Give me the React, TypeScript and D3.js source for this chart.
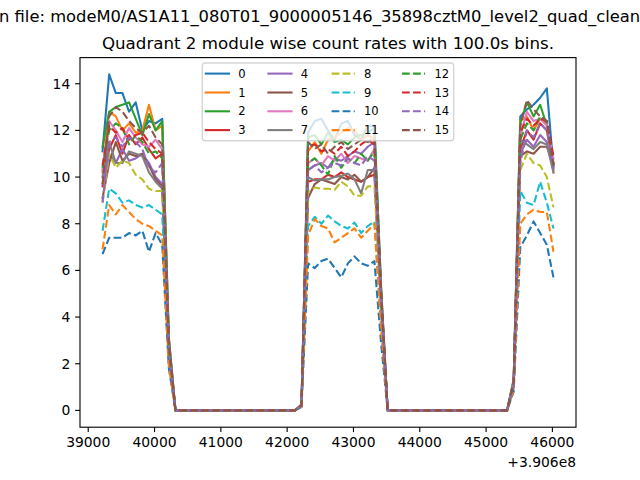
import React from "react";
import * as d3 from "d3";

const SUPTITLE = "n file: modeM0/AS1A11_080T01_9000005146_35898cztM0_level2_quad_clean.evt";
const TITLE = "Quadrant 2 module wise count rates with 100.0s bins.";
const OFFSET_LABEL = "+3.906e8";

// 100 s bin centres (offset removed: true time = value + 3.906e8)
const TIMES = d3.range(39216, 46017, 100);
const GAP = [0, 0, 0, 0, 0, 0, 0, 0, 0, 0, 0, 0, 0, 0, 0, 0, 0, 0, 0];

const X_TICKS = [39000, 40000, 41000, 42000, 43000, 44000, 45000, 46000];
const Y_TICKS = [0, 2, 4, 6, 8, 10, 12, 14];
const MODULE_LABELS = ["0", "1", "2", "3", "4", "5", "6", "7", "8", "9", "10", "11", "12", "13", "14", "15"];
const COLORS = ["#1f77b4", "#ff7f0e", "#2ca02c", "#d62728", "#9467bd", "#8c564b", "#e377c2", "#7f7f7f", "#bcbd22", "#17becf"];

const m0 = [11.1, 14.4, 13.6, 13.6, 12.8, 13.2, 12.0, 12.4, 12.3, 12.5, 3.1, ...GAP,
  0.25, 11.9, 12.4, 12.5, 12.0, 11.6, 12.3, 12.4, 11.8, 11.6, 12.2, 12.2, 5.3, ...GAP,
  1.3, 12.6, 12.9, 13.1, 13.4, 13.8, 10.4];
const m1 = [10.2, 12.8, 12.6, 12.0, 12.3, 11.9, 12.0, 13.1, 12.0, 12.2, 3.0, ...GAP,
  0.24, 11.1, 11.5, 11.0, 11.6, 11.7, 11.9, 12.1, 12.0, 11.6, 11.8, 11.6, 5.1, ...GAP,
  1.2, 12.4, 12.6, 12.0, 12.5, 12.3, 10.2];
const m2 = [11.3, 12.8, 13.0, 13.1, 13.2, 12.5, 11.8, 12.7, 12.0, 12.4, 3.1, ...GAP,
  0.24, 11.7, 11.8, 11.4, 11.9, 11.5, 11.6, 11.4, 11.7, 11.8, 11.9, 12.1, 5.3, ...GAP,
  1.3, 12.3, 13.2, 12.6, 13.1, 12.2, 10.6];
const m3 = [9.6, 11.2, 11.8, 11.0, 11.8, 11.4, 11.7, 11.2, 10.8, 11.0, 2.7, ...GAP,
  0.2, 9.8, 9.9, 9.9, 10.1, 10.0, 10.2, 10.0, 9.9, 9.8, 10.0, 10.1, 4.5, ...GAP,
  1.1, 11.2, 12.0, 11.6, 12.3, 12.0, 10.6];
const m4 = [9.7, 11.0, 10.6, 11.2, 10.7, 10.8, 11.0, 10.6, 10.0, 9.7, 2.4, ...GAP,
  0.2, 10.3, 10.5, 10.6, 10.4, 10.8, 10.7, 10.9, 11.1, 11.0, 11.3, 11.5, 4.9, ...GAP,
  1.1, 11.0, 11.6, 11.3, 11.8, 11.5, 10.3];
const m5 = [9.1, 10.6, 11.5, 10.7, 11.0, 10.9, 11.0, 10.5, 9.9, 9.6, 2.4, ...GAP,
  0.2, 9.1, 9.7, 9.9, 9.8, 9.7, 10.0, 9.9, 10.1, 9.8, 10.0, 10.4, 4.5, ...GAP,
  1.0, 10.9, 11.1, 11.0, 11.3, 11.3, 10.5];
const m6 = [10.3, 12.4, 12.0, 11.5, 12.1, 11.7, 11.4, 11.3, 11.6, 11.2, 2.8, ...GAP,
  0.22, 10.6, 10.8, 10.5, 10.9, 10.7, 11.0, 10.6, 10.9, 10.8, 10.7, 11.2, 4.9, ...GAP,
  1.2, 11.8, 12.8, 12.4, 12.5, 12.2, 10.8];
const m7 = [10.0, 11.5, 10.6, 10.6, 11.1, 11.0, 10.9, 10.2, 9.8, 9.5, 2.4, ...GAP,
  0.2, 10.0, 9.85, 9.9, 9.9, 10.0, 10.05, 10.15, 9.9, 9.3, 10.3, 10.3, 4.6, ...GAP,
  1.1, 11.6, 11.4, 11.2, 11.5, 11.4, 10.2];
const m8 = [8.9, 11.0, 10.4, 10.7, 10.6, 10.1, 9.9, 9.5, 9.4, 9.4, 2.3, ...GAP,
  0.19, 9.4, 9.55, 9.5, 9.5, 9.45, 9.8, 9.6, 9.2, 9.2, 9.6, 9.6, 4.3, ...GAP,
  1.0, 10.3, 11.0, 10.6, 10.5, 10.0, 8.7];
const m9 = [7.7, 9.5, 9.3, 8.9, 9.0, 8.8, 8.7, 8.8, 8.6, 8.4, 2.1, ...GAP,
  0.17, 7.9, 8.3, 8.0, 8.35, 8.1, 7.9, 7.8, 8.05, 7.6, 7.9, 8.1, 3.7, ...GAP,
  0.9, 9.4, 8.9, 8.8, 9.8, 8.9, 7.8];
const m10 = [6.7, 7.4, 7.4, 7.4, 7.6, 7.5, 7.7, 6.8, 7.6, 7.1, 1.8, ...GAP,
  0.14, 6.3, 6.1, 6.4, 6.5, 6.1, 5.7, 6.3, 6.6, 6.3, 6.2, 6.4, 2.9, ...GAP,
  0.8, 7.0, 7.5, 8.1, 7.6, 7.1, 5.7];
const m11 = [6.9, 8.8, 8.4, 8.8, 8.5, 8.2, 8.0, 7.9, 7.7, 7.5, 1.9, ...GAP,
  0.15, 7.5, 8.2, 7.9, 7.8, 7.2, 7.4, 7.6, 7.8, 7.4, 7.7, 8.0, 3.6, ...GAP,
  0.9, 8.0, 8.4, 8.6, 8.5, 8.5, 6.8];
const m12 = [10.4, 12.0, 12.3, 12.1, 11.4, 11.8, 11.5, 11.0, 11.1, 10.8, 2.7, ...GAP,
  0.2, 10.6, 10.8, 10.5, 10.1, 10.9, 10.4, 10.8, 10.6, 11.0, 10.7, 11.1, 4.9, ...GAP,
  1.1, 11.6, 12.3, 12.0, 12.6, 12.4, 10.5];
const m13 = [10.5, 12.2, 11.9, 12.1, 11.6, 11.8, 11.9, 11.5, 11.2, 11.0, 2.8, ...GAP,
  0.22, 11.3, 11.4, 11.1, 11.2, 11.0, 11.3, 10.9, 11.1, 11.4, 11.6, 11.4, 5.0, ...GAP,
  1.2, 11.9, 12.5, 12.2, 12.5, 12.4, 10.9];
const m14 = [8.9, 11.5, 11.7, 11.3, 11.7, 11.5, 11.2, 10.4, 10.2, 10.6, 2.6, ...GAP,
  0.2, 10.3, 10.5, 10.2, 10.4, 10.6, 10.5, 10.8, 10.6, 10.5, 10.9, 10.7, 4.7, ...GAP,
  1.1, 10.6, 12.0, 11.7, 12.3, 12.0, 10.4];
const m15 = [9.7, 12.6, 13.0, 12.8, 12.4, 12.1, 11.9, 12.2, 11.7, 11.4, 2.8, ...GAP,
  0.22, 11.5, 11.2, 11.4, 11.0, 11.3, 11.5, 11.2, 11.4, 11.6, 11.5, 11.7, 5.1, ...GAP,
  1.2, 12.2, 13.3, 12.9, 12.6, 12.4, 10.5];

const SERIES = [m0, m1, m2, m3, m4, m5, m6, m7, m8, m9, m10, m11, m12, m13, m14, m15];

const W = 640;
const H = 480;
const PT = 100 / 72;
const AX = { left: 80, right: 576, top: 57.6, bottom: 427.2 };
const FONT = "DejaVu Sans, Liberation Sans, sans-serif";

export default function App() {
  const xMin = d3.min(TIMES) as number;
  const xMax = d3.max(TIMES) as number;
  const xPad = (xMax - xMin) * 0.05;
  const yMin = 0;
  const yMax = d3.max(SERIES.flat()) as number;
  const yPad = (yMax - yMin) * 0.05;

  const x = d3.scaleLinear().domain([xMin - xPad, xMax + xPad]).range([AX.left, AX.right]);
  const y = d3.scaleLinear().domain([yMin - yPad, yMax + yPad]).range([AX.bottom, AX.top]);

  const lw = 1.5 * PT;
  const dash = `${3.7 * lw} ${1.6 * lw}`;
  const tickLen = 3.5 * PT;
  const tickFs = 10 * PT;
  const titleFs = 12 * PT;
  const legFs = 8.33 * PT;

  const line = d3
    .line<number>()
    .x((_, i) => x(TIMES[i]))
    .y((d) => y(d));

  // legend layout
  const legLeft = 202.3;
  const legTop = 63;
  const legW = 251.4;
  const legH = 77.7;
  const colX = [205.8, 268.4, 331.6, 402.0];
  const rowY = [73.6, 92.5, 111.3, 130.1];
  const handleLen = 2 * legFs;
  const textOff = 2.8 * legFs;

  return (
    <svg
      width={W}
      height={H}
      viewBox={`0 0 ${W} ${H}`}
      style={{ position: "fixed", left: 0, top: 0, background: "#fff" }}
      fontFamily={FONT}
    >
      <rect x={0} y={0} width={W} height={H} fill="#fff" />
      <text x={-1} y={22.4} fontSize={16.35} fill="#000">
        {SUPTITLE}
      </text>
      <text x={(AX.left + AX.right) / 2} y={49.3} fontSize={titleFs} textAnchor="middle" fill="#000">
        {TITLE}
      </text>

      <g>
        {SERIES.map((s, i) => (
          <path
            key={i}
            d={line(s) || ""}
            fill="none"
            stroke={COLORS[i % 10]}
            strokeWidth={lw}
            strokeDasharray={i >= 8 ? dash : undefined}
            strokeLinejoin="round"
            strokeLinecap={i >= 8 ? "butt" : "square"}
          />
        ))}
      </g>

      {/* axes frame */}
      <rect
        x={AX.left}
        y={AX.top}
        width={AX.right - AX.left}
        height={AX.bottom - AX.top}
        fill="none"
        stroke="#000"
        strokeWidth={0.8 * PT}
      />

      {X_TICKS.map((t) => (
        <g key={t}>
          <line x1={x(t)} x2={x(t)} y1={AX.bottom} y2={AX.bottom + tickLen} stroke="#000" strokeWidth={0.8 * PT} />
          <text x={x(t)} y={447.2} fontSize={tickFs} textAnchor="middle" fill="#000">
            {t}
          </text>
        </g>
      ))}
      <text x={AX.right} y={466.8} fontSize={tickFs} textAnchor="end" fill="#000">
        {OFFSET_LABEL}
      </text>

      {Y_TICKS.map((t) => (
        <g key={t}>
          <line x1={AX.left - tickLen} x2={AX.left} y1={y(t)} y2={y(t)} stroke="#000" strokeWidth={0.8 * PT} />
          <text x={AX.left - 2 * tickLen} y={y(t) + 0.36 * tickFs} fontSize={tickFs} textAnchor="end" fill="#000">
            {t}
          </text>
        </g>
      ))}

      {/* legend */}
      <rect
        x={legLeft}
        y={legTop}
        width={legW}
        height={legH}
        rx={2.8}
        fill="#fff"
        fillOpacity={0.8}
        stroke="#cccccc"
        strokeOpacity={0.8}
        strokeWidth={1 * PT}
      />
      {MODULE_LABELS.map((lab, i) => {
        const c = Math.floor(i / 4);
        const r = i % 4;
        const hx = colX[c];
        const hy = rowY[r];
        return (
          <g key={lab}>
            <line
              x1={hx}
              x2={hx + handleLen}
              y1={hy}
              y2={hy}
              stroke={COLORS[i % 10]}
              strokeWidth={lw}
              strokeDasharray={i >= 8 ? dash : undefined}
              strokeLinecap={i >= 8 ? "butt" : "square"}
            />
            <text x={hx + textOff} y={hy + 0.36 * legFs} fontSize={legFs} fill="#000">
              {lab}
            </text>
          </g>
        );
      })}
    </svg>
  );
}
